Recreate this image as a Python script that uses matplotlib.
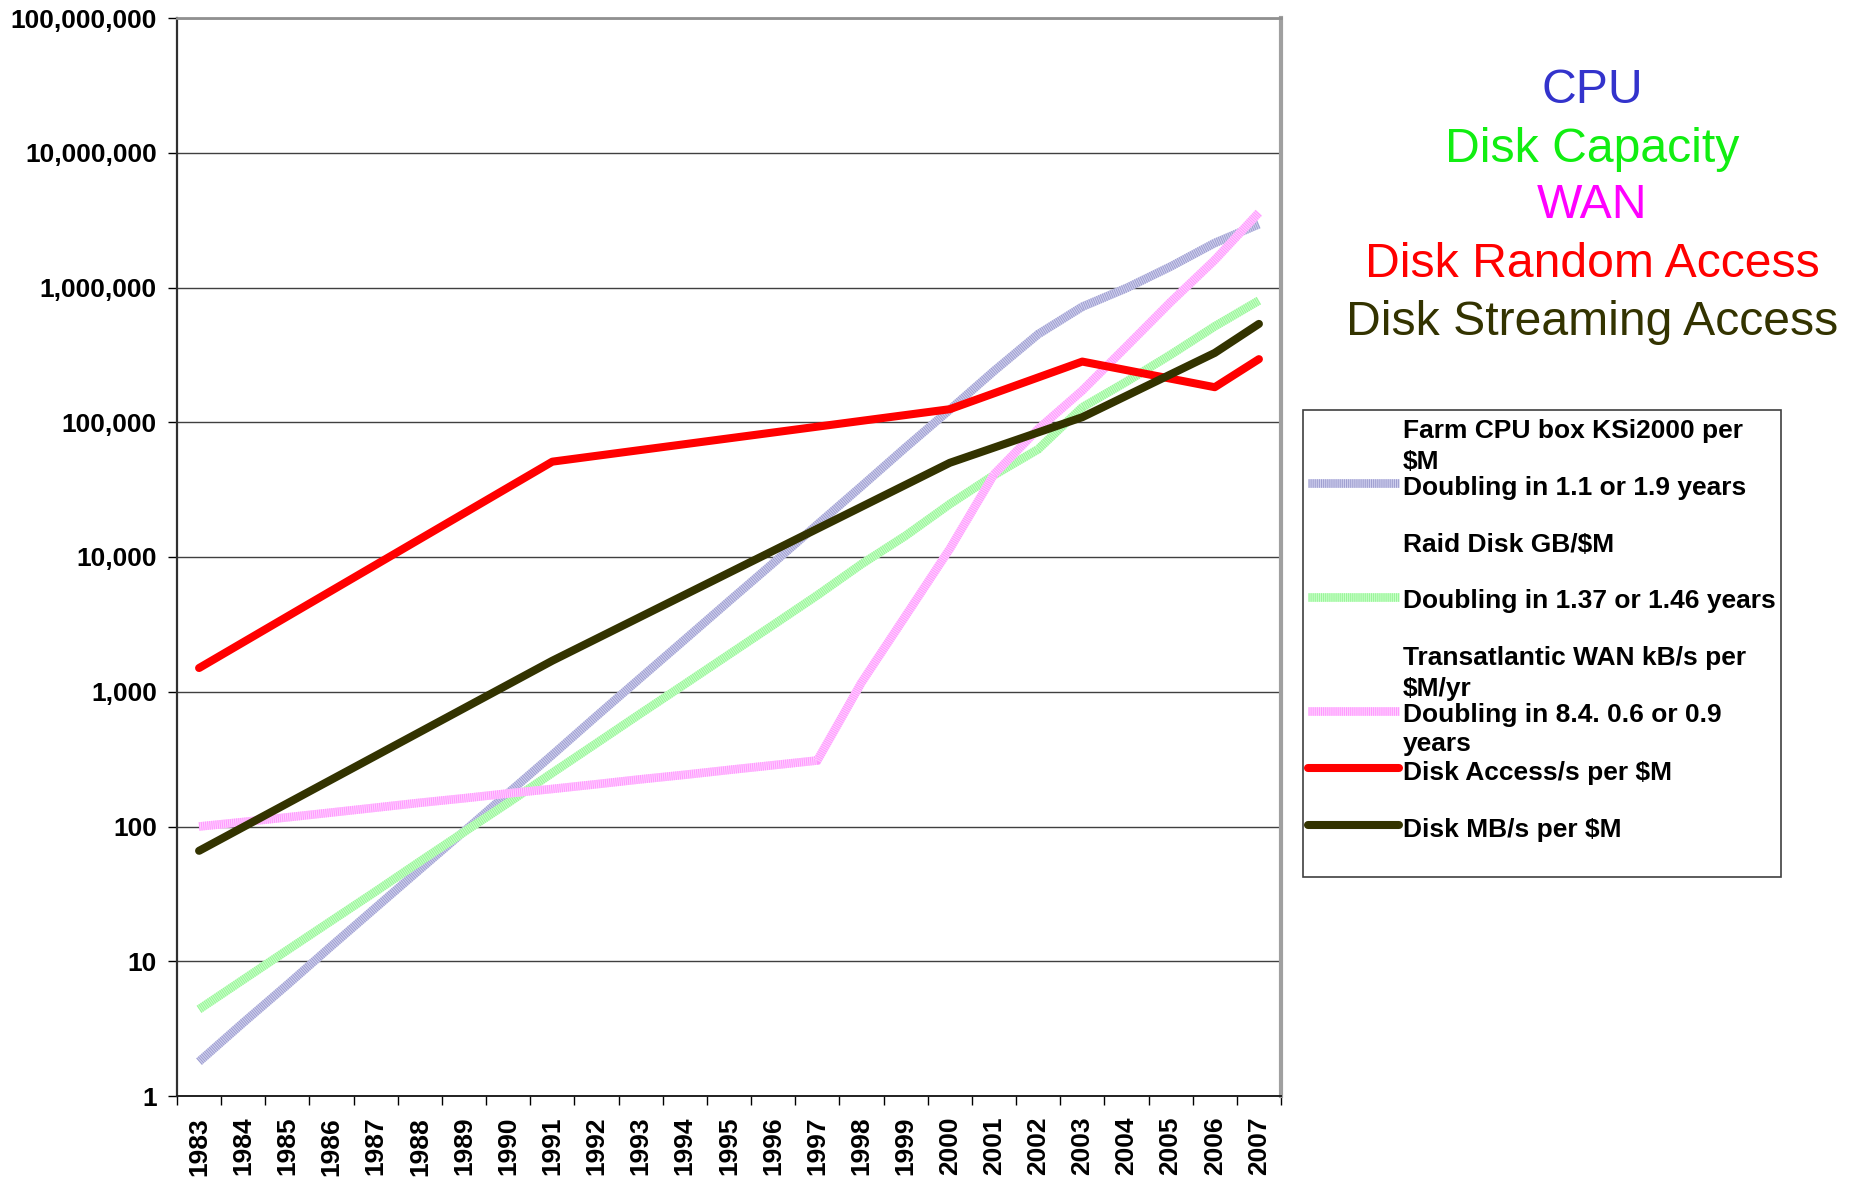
import numpy as np
import matplotlib
matplotlib.use("Agg")
import matplotlib.pyplot as plt
from matplotlib.lines import Line2D
from matplotlib.patches import Rectangle
from matplotlib.ticker import FuncFormatter, FixedLocator, NullLocator

plt.rcParams['font.family'] = ['Liberation Sans', 'DejaVu Sans']
plt.rcParams['lines.scale_dashes'] = False

years = list(range(1983, 2008))

# price/performance per $M, one value per year
cpu = [1.8, 3.5, 6.7, 13, 25, 48, 92, 177, 340, 660, 1270, 2440, 4700, 9000,
       17400, 33500, 65000, 124000, 240000, 450000, 720000, 990000, 1430000,
       2140000, 2950000]
disk_gb = [4.4, 7.3, 12.1, 20, 33, 55, 91, 150, 250, 415, 690, 1140, 1890, 3130,
           5200, 8850, 14400, 24700, 40500, 63000, 129000, 200000, 317000,
           515000, 800000]
wan = [100, 108, 117, 127, 138, 150, 162, 176, 190, 206, 224, 242, 263, 285,
       309, 1170, 3660, 11500, 41000, 89000, 172000, 365000, 780000, 1600000,
       3600000]

# disk access and streaming only known at a few years
access_years = [1983, 1991, 2000, 2003, 2006, 2007]
disk_access = [1500, 51000, 125000, 282000, 182000, 294000]
stream_years = [1983, 1991, 2000, 2003, 2006, 2007]
disk_mbs = [66, 1700, 50000, 109000, 327000, 537000]

legend_text = [
    ["Farm CPU box KSi2000 per", "$M", "Doubling in 1.1 or 1.9 years"],
    ["Raid Disk GB/$M", "", "Doubling in 1.37 or 1.46 years"],
    ["Transatlantic WAN kB/s per", "$M/yr", "Doubling in 8.4. 0.6 or 0.9", "years"],
    ["Disk Access/s per $M"],
    ["Disk MB/s per $M"],
]
titles = ["CPU", "Disk Capacity", "WAN", "Disk Random Access", "Disk Streaming Access"]
title_colors = ["#3333cc", "#11ee11", "#ff00ff", "#ff0000", "#333300"]

W, H = 1862, 1181
fig = plt.figure(figsize=(W / 100, H / 100), dpi=100)
ax = fig.add_axes([177 / W, 1 - 1096 / H, (1281 - 177) / W, (1096 - 18) / H])

def xi(ys):
    return [y - 1983 for y in ys]

def striped(x, y, base, stripe, lw=6.2, target=None, transform=None):
    kw = {}
    if transform is not None:
        kw['transform'] = transform
    l1 = Line2D(x, y, color=base, lw=lw, solid_capstyle='butt', solid_joinstyle='miter', **kw)
    l2 = Line2D(x, y, color=stripe, lw=lw, dashes=(0.75, 0.75), dash_capstyle='butt', **kw)
    if target is None:
        ax.add_line(l1)
        ax.add_line(l2)
    else:
        target.add_artist(l1)
        target.add_artist(l2)

striped(xi(years), cpu, '#d0d0ee', '#9f9fd0')
striped(xi(years), disk_gb, '#c8ffc8', '#99f599')
striped(xi(years), wan, '#ffd0ff', '#ff99ff')
ax.plot(xi(access_years), disk_access, color='#ff0000', lw=5.8, solid_capstyle='round')
ax.plot(xi(stream_years), disk_mbs, color='#333300', lw=5.8, solid_capstyle='round')

ax.set_yscale('log')
ax.set_ylim(1, 1e8)
ax.set_xlim(-0.5, len(years) - 0.5)
ax.yaxis.set_major_locator(FixedLocator([10 ** k for k in range(9)]))
ax.yaxis.set_minor_locator(NullLocator())
ax.yaxis.set_major_formatter(FuncFormatter(lambda v, p: f"{int(round(v)):,}"))
ax.grid(axis='y', color='#404040', lw=1.0)
ax.set_axisbelow(True)

ax.set_xticks(range(len(years)))
ax.set_xticklabels([str(y) for y in years], rotation=90, fontweight='bold', fontsize=19)
ax.set_xticks(np.arange(-0.5, len(years)), minor=True)
ax.tick_params(axis='x', which='major', length=0, pad=15)
ax.tick_params(axis='x', which='minor', length=6.5, width=1, direction='out')
ax.tick_params(axis='y', which='major', length=6.5, width=1, direction='out', pad=8,
               labelsize=19)
for t in ax.get_yticklabels():
    t.set_fontweight('bold')

ax.spines['left'].set_color('#303030')
ax.spines['left'].set_linewidth(1.6)
ax.spines['bottom'].set_color('#202020')
ax.spines['bottom'].set_linewidth(1.4)
ax.spines['top'].set_color('#909090')
ax.spines['top'].set_linewidth(2)
ax.spines['right'].set_color('#a0a0a0')
ax.spines['right'].set_linewidth(3)

# coloured headings on the right
heading_baselines = [103, 162, 218, 277, 335]
for txt, col, yb in zip(titles, title_colors, heading_baselines):
    fig.text(1592 / W, 1 - yb / H, txt, color=col, fontsize=34.7, ha='center', va='baseline')

# legend box drawn by hand
fig.add_artist(Rectangle((1303 / W, 1 - 877 / H), (1781 - 1303) / W, (877 - 410) / H,
                         transform=fig.transFigure, fill=False, edgecolor='#404040', lw=1.2))
text_baselines = [[438, 469, 495], [552, 580, 608], [665, 696, 722, 751], [780], [837]]
marker_y = [483, 597, 711, 768, 825]
for i, lines in enumerate(legend_text):
    for s, yb in zip(lines, text_baselines[i]):
        fig.text(1403 / W, 1 - yb / H, s, fontsize=19, fontweight='bold', va='baseline', ha='left')
mx = [1308 / W, 1399 / W]
fl = fig.transFigure
striped(mx, [1 - marker_y[0] / H] * 2, '#d0d0ee', '#9f9fd0', target=fig, transform=fl)
striped(mx, [1 - marker_y[1] / H] * 2, '#c8ffc8', '#99f599', target=fig, transform=fl)
striped(mx, [1 - marker_y[2] / H] * 2, '#ffd0ff', '#ff99ff', target=fig, transform=fl)
fig.add_artist(Line2D(mx, [1 - marker_y[3] / H] * 2, color='#ff0000', lw=5.8,
                      solid_capstyle='round', transform=fl))
fig.add_artist(Line2D(mx, [1 - marker_y[4] / H] * 2, color='#333300', lw=5.8,
                      solid_capstyle='round', transform=fl))

fig.savefig('out.png', dpi=100)
